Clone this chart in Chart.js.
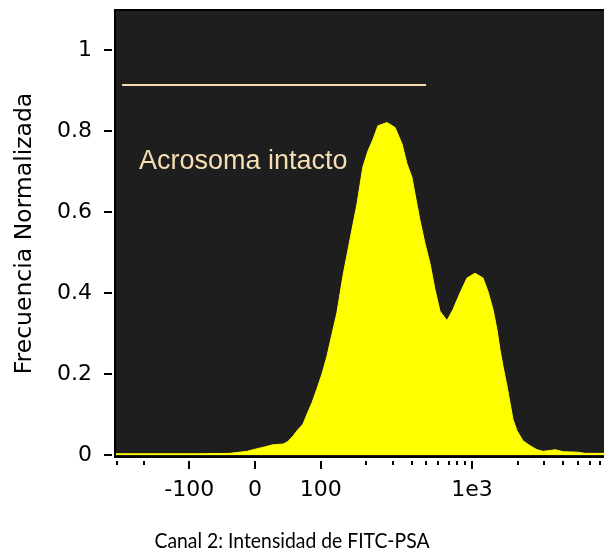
<!DOCTYPE html>
<html>
<head>
<meta charset="utf-8">
<script src="https://cdn.jsdelivr.net/npm/chart.js@4.4.1/dist/chart.umd.min.js"></script>
<style>
  html, body { margin: 0; padding: 0; background: #fff; }
  #wrap { width: 604px; height: 553px; }
</style>
</head>
<body>
<div id="wrap"><canvas id="histChart" width="604" height="553"></canvas></div>
<script>
// Channel 2 intensity (FITC-PSA) and normalized frequency
const intensity = [-305, -84, -38, -12, 2, 15, 27, 43, 50, 58, 64, 73, 79, 87, 94, 102, 110, 119, 128,
  140, 156, 174, 190, 205, 222, 239, 274, 310, 345, 372, 401, 420, 453, 489, 528, 570, 615, 684, 749,
  833, 927, 1048, 1183, 1276, 1378, 1463, 1532, 1604, 1705, 1784, 1867, 1985, 2174, 2419, 2690, 2948,
  3281, 3541, 3821, 3998, 4944, 5586, 7460];
const frequency = [0.003, 0.003, 0.004, 0.009, 0.015, 0.02, 0.025, 0.027, 0.033, 0.047, 0.06, 0.076, 0.1,
  0.13, 0.162, 0.2, 0.244, 0.3, 0.351, 0.44, 0.531, 0.621, 0.711, 0.75, 0.78, 0.813, 0.821, 0.809, 0.768,
  0.719, 0.686, 0.645, 0.58, 0.523, 0.473, 0.408, 0.355, 0.332, 0.359, 0.40, 0.437, 0.449, 0.437, 0.404,
  0.359, 0.31, 0.26, 0.219, 0.17, 0.129, 0.088, 0.06, 0.035, 0.023, 0.013, 0.009, 0.011, 0.013, 0.01,
  0.008, 0.007, 0.004, 0.004];

// gate "Acrosoma intacto"
const gateX = [-278, 497];
const gateY = 0.914;
const gateLabel = "Acrosoma intacto";

// axes
const xMajorTicks = [-100, 0, 100, 1000];
const xMajorLabels = ["-100", "0", "100", "1e3"];
const xMinorTicks = [-300, -200, 200, 300, 400, 500, 600, 700, 800, 900, 2000, 3000, 4000, 5000, 6000, 7000];
const yTicks = [0, 0.2, 0.4, 0.6, 0.8, 1];
const xTitle = "Canal 2: Intensidad de FITC-PSA";
const yTitle = "Frecuencia Normalizada";

// linear near zero, log outside +-100
function symlog(v) {
  const a = Math.abs(v);
  if (a <= 100) return v / 100;
  return Math.sign(v) * (1 + Math.log(a / 100));
}
function symexp(t) {
  const a = Math.abs(t);
  if (a <= 1) return t * 100;
  return Math.sign(t) * 100 * Math.exp(a - 1);
}

class SymLogScale extends Chart.LinearScale {
  determineDataLimits() {
    this.min = this.options.min;
    this.max = this.options.max;
  }
  buildTicks() {
    return xMajorTicks.map(v => ({ value: v }));
  }
  configure() {
    super.configure();
    this._t0 = symlog(this.min);
    this._t1 = symlog(this.max);
  }
  getPixelForValue(v) {
    return this.getPixelForDecimal((symlog(v) - this._t0) / (this._t1 - this._t0));
  }
  getValueForPixel(p) {
    return symexp(this._t0 + this.getDecimalForPixel(p) * (this._t1 - this._t0));
  }
}
SymLogScale.id = "symlog";
SymLogScale.defaults = {};
Chart.register(SymLogScale);

const plotDecor = {
  id: "plotDecor",
  beforeDatasetsDraw(chart) {
    const { ctx, chartArea: a } = chart;
    ctx.save();
    ctx.fillStyle = "#1e1e1e";
    ctx.fillRect(a.left, a.top, a.right - a.left, a.bottom - a.top);
    ctx.restore();
  },
  afterDraw(chart) {
    const { ctx, chartArea: a } = chart;
    const xs = chart.scales.x, ys = chart.scales.y;
    ctx.save();
    // frame
    ctx.strokeStyle = "#000";
    ctx.lineWidth = 2;
    ctx.beginPath();
    ctx.moveTo(a.right, a.top);
    ctx.lineTo(a.left - 1, a.top);
    ctx.lineTo(a.left - 1, a.bottom);
    ctx.lineTo(a.right, a.bottom);
    ctx.stroke();

    // tick marks, set off from the frame
    ctx.beginPath();
    yTicks.forEach(v => {
      const y = Math.round(ys.getPixelForValue(v));
      ctx.moveTo(a.left - 12, y);
      ctx.lineTo(a.left - 4, y);
    });
    xMajorTicks.forEach(v => {
      const x = Math.round(xs.getPixelForValue(v));
      ctx.moveTo(x, a.bottom + 4);
      ctx.lineTo(x, a.bottom + 12);
    });
    xMinorTicks.forEach(v => {
      const x = Math.round(xs.getPixelForValue(v));
      ctx.moveTo(x, a.bottom + 4);
      ctx.lineTo(x, a.bottom + 8);
    });
    ctx.stroke();

    // gate label
    ctx.fillStyle = "#f5deb3";
    ctx.font = "27px 'Liberation Sans', Arial, sans-serif";
    ctx.textAlign = "left";
    ctx.textBaseline = "alphabetic";
    ctx.fillText(gateLabel, a.left + 23, 169);

    // x axis title (narrow, Calibri-like)
    ctx.fillStyle = "#000";
    ctx.font = "22px Lato, sans-serif";
    ctx.textAlign = "center";
    ctx.translate(292, 548);
    ctx.scale(0.88, 1);
    ctx.fillText(xTitle, 0, 0);
    ctx.restore();
  }
};

const ctx = document.getElementById("histChart").getContext("2d");
new Chart(ctx, {
  type: "line",
  data: {
    datasets: [{
      label: "FITC-PSA",
      data: intensity.map((v, i) => ({ x: v, y: frequency[i] })),
      borderColor: "#ffff00",
      backgroundColor: "#ffff00",
      borderWidth: 1,
      fill: "origin",
      pointRadius: 0,
      tension: 0
    }, {
      label: gateLabel,
      data: gateX.map(v => ({ x: v, y: gateY })),
      borderColor: "#f5deb3",
      borderWidth: 2,
      fill: false,
      pointRadius: 0
    }]
  },
  plugins: [plotDecor],
  options: {
    responsive: false,
    animation: false,
    layout: { padding: { left: 0, top: 10, right: 0, bottom: 0 } },
    plugins: {
      legend: { display: false },
      tooltip: { enabled: false }
    },
    scales: {
      x: {
        type: "symlog",
        min: -305,
        max: 7460,
        grid: { display: false, drawTicks: false },
        border: { display: false },
        ticks: {
          autoSkip: false,
          maxRotation: 0,
          padding: 20,
          color: "#000",
          font: { family: "'DejaVu Sans'", size: 22 },
          callback: (v) => xMajorLabels[xMajorTicks.indexOf(v)]
        },
        afterFit: (s) => { s.height = 96; s.paddingLeft = 0; s.paddingRight = 0; }
      },
      y: {
        min: -0.005,
        max: 1.099,
        grid: { display: false, drawTicks: false },
        border: { display: false },
        afterBuildTicks: (s) => { s.ticks = yTicks.map(v => ({ value: v })); },
        ticks: {
          padding: 24,
          color: "#000",
          font: { family: "'DejaVu Sans'", size: 22 },
          callback: (v) => String(Math.round(v * 10) / 10)
        },
        title: {
          display: true,
          text: yTitle,
          color: "#000",
          font: { family: "'DejaVu Sans'", size: 23.5 },
          padding: { top: 11, bottom: 0 }
        },
        afterFit: (s) => { s.width = 116; s.paddingTop = 0; s.paddingBottom = 0; }
      }
    }
  }
});
</script>
</body>
</html>
